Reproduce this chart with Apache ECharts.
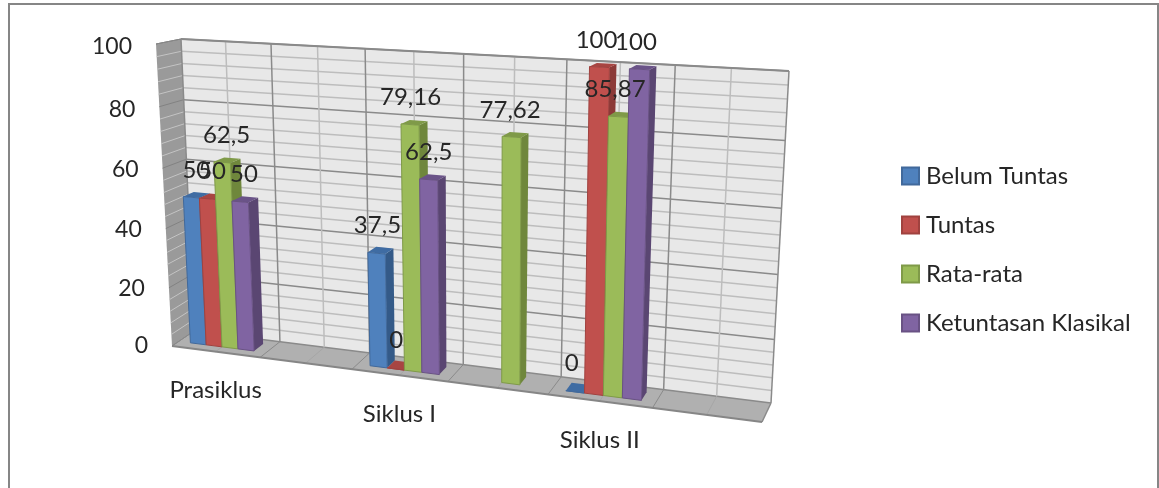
<!DOCTYPE html>
<html>
<head>
<meta charset="utf-8">
<title>Ketuntasan</title>
<style>
html, body { margin: 0; padding: 0; background: #fff; overflow: hidden; }
#main { width: 1159px; height: 488px; }
</style>
<script src="https://cdn.jsdelivr.net/npm/echarts@6/dist/echarts.min.js"></script>
</head>
<body>
<div id="main"></div>
<script>
// data (blank categories are really in the chart)
var categories = ['Prasiklus', '', 'Siklus I', '', 'Siklus II', ''];
var belumTuntas = [50, null, 37.5, null, 0, null];
var tuntas = [50, null, 0, null, 100, null];
var rataRata = [62.5, null, 79.16, 77.62, 85.87, null];
var klasikal = [50, null, 62.5, null, 100, null];
var yTicks = [0, 20, 40, 60, 80, 100];
var yMinorTicks = [4, 8, 12, 16, 24, 28, 32, 36, 44, 48, 52, 56, 64, 68, 72, 76, 84, 88, 92, 96];

var seriesNames = ['Belum Tuntas', 'Tuntas', 'Rata-rata', 'Ketuntasan Klasikal'];
var seriesValues = [belumTuntas, tuntas, rataRata, klasikal];
var faceColors = [
	{ front: '#4f81bd', edge: '#41699b', side: '#345a88', top: '#3f6ca3' },
	{ front: '#c0504d', edge: '#a0423f', side: '#8c3a38', top: '#a84542' },
	{ front: '#9bbb59', edge: '#7f9a48', side: '#6f873c', top: '#7f9a48' },
	{ front: '#8064a2', edge: '#695284', side: '#5a4672', top: '#6a5388' }
];

var FONT = 'Lato, "Open Sans", sans-serif';
var GRID = { left: 100, top: 40, width: 600, height: 300 };

// walls in the picture: the corners of the chart box, back plane and front plane
// order: bottom-left, bottom-right, top-right, top-left
var backPlane = [[194, 331], [771, 403], [789, 71], [181, 39]];
var frontPlane = [[172, 346], [762, 422], [776, 80], [156, 44]];

// bar placement inside a category cell and inside the depth of the box
var BAR_START = 0.135;
var BAR_WIDTH = 0.182;
var BAR_BACK = 0.24;
var BAR_FRONT = 0.69;

function makeHomography(q) {
	var x0 = q[0][0], y0 = q[0][1], x1 = q[1][0], y1 = q[1][1];
	var x2 = q[2][0], y2 = q[2][1], x3 = q[3][0], y3 = q[3][1];
	var dx1 = x1 - x2, dx2 = x3 - x2, sx = x0 - x1 + x2 - x3;
	var dy1 = y1 - y2, dy2 = y3 - y2, sy = y0 - y1 + y2 - y3;
	var den = dx1 * dy2 - dx2 * dy1;
	var g = (sx * dy2 - dx2 * sy) / den;
	var h = (dx1 * sy - sx * dy1) / den;
	var a = x1 - x0 + g * x1, b = x3 - x0 + h * x3;
	var d = y1 - y0 + g * y1, e = y3 - y0 + h * y3;
	return function (u, v) {
		var w = g * u + h * v + 1;
		return [(a * u + b * v + x0) / w, (d * u + e * v + y0) / w];
	};
}
var backMap = makeHomography(backPlane);
var frontMap = makeHomography(frontPlane);

// u along the categories, v up the value axis, w from back wall (0) to front (1)
function project(u, v, w) {
	var p = backMap(u, v), q = frontMap(u, v);
	return [p[0] + (q[0] - p[0]) * w, p[1] + (q[1] - p[1]) * w];
}

function flatU(px) { return (px - GRID.left) / GRID.width; }
function flatV(py) { return (GRID.top + GRID.height - py) / GRID.height; }

function polygon(points, fill, stroke, lineWidth, z2) {
	return {
		type: 'polygon',
		z2: z2 || 0,
		shape: { points: points },
		style: { fill: fill, stroke: stroke || null, lineWidth: lineWidth || 0 }
	};
}
function line(a, b, color, width) {
	return {
		type: 'line',
		shape: { x1: a[0], y1: a[1], x2: b[0], y2: b[1] },
		style: { stroke: color, lineWidth: width, fill: null }
	};
}
function label(x, y, text, size, align) {
	return {
		type: 'text',
		z2: 100,
		style: {
			x: x, y: y, text: text, fill: '#262626',
			font: size + 'px ' + FONT,
			align: align || 'center', verticalAlign: 'middle'
		}
	};
}

// box of the chart: walls, floor, grid lines, tick and category labels
function renderBox(params, api) {
	var kids = [];
	var band = api.size([1, 0])[0];
	var n = categories.length;

	kids.push(polygon([project(0, 0, 0), project(1, 0, 0), project(1, 1, 0), project(0, 1, 0)], '#e8e8e8'));
	kids.push(polygon([project(0, 0, 0), project(0, 1, 0), project(0, 1, 1), project(0, 0, 1)], '#9a9a9a'));
	kids.push(polygon([project(0, 0, 0), project(1, 0, 0), project(1, 0, 1), project(0, 0, 1)], '#b0b0b0'));

	yMinorTicks.forEach(function (t) {
		var v = flatV(api.coord([0, t])[1]);
		kids.push(line(project(0, v, 0), project(1, v, 0), '#bdbdbd', 1.5));
		kids.push(line(project(0, v, 0), project(0, v, 1), '#c4c4c4', 1));
	});
	yTicks.forEach(function (t) {
		var v = flatV(api.coord([0, t])[1]);
		kids.push(line(project(0, v, 0), project(1, v, 0), '#8a8a8a', 1.5));
		kids.push(line(project(0, v, 0), project(0, v, 1), '#828282', 1));
		var p = project(0, v, 1);
		kids.push(label(p[0] - 24, p[1] + 3 * v, String(t), 23, 'right'));
	});
	for (var i = 0; i < n; i++) {
		var center = api.coord([i, 0])[0];
		var um = flatU(center);
		var ub = flatU(center - band / 2);
		kids.push(line(project(um, 0, 0), project(um, 1, 0), '#bdbdbd', 1.5));
		kids.push(line(project(um, 0, 0), project(um, 0, 1), '#a6a6a6', 1));
		kids.push(line(project(ub, 0, 0), project(ub, 1, 0), '#8a8a8a', 1.5));
		kids.push(line(project(ub, 0, 0), project(ub, 0, 1), '#8a8a8a', 1));
		if (categories[i]) {
			var f = project(um, 0, 1);
			kids.push(label(f[0], f[1] + 39, categories[i], 24));
		}
	}
	kids.push(line(project(1, 0, 0), project(1, 1, 0), '#8a8a8a', 1.5));
	kids.push(line(project(1, 0, 0), project(1, 0, 1), '#8a8a8a', 1.5));
	kids.push(line(project(0, 0, 1), project(1, 0, 1), '#868686', 2));
	kids.push(line(project(0, 1, 0), project(1, 1, 0), '#8a8a8a', 2));
	kids.push(line(project(0, 1, 0), project(0, 1, 1), '#868686', 1));

	return { type: 'group', children: kids };
}

function makeBarRenderer(seriesIndex) {
	var colors = faceColors[seriesIndex];
	var order = seriesIndex + 1;
	return function (params, api) {
		var catIndex = api.value(0);
		var val = api.value(1);
		var band = api.size([1, 0])[0];
		var cellLeft = api.coord([catIndex, 0])[0] - band / 2;
		var u0 = flatU(cellLeft + band * (BAR_START + BAR_WIDTH * seriesIndex));
		var u1 = flatU(cellLeft + band * (BAR_START + BAR_WIDTH * (seriesIndex + 1)));
		var vb = flatV(api.coord([catIndex, 0])[1]);
		var vt = flatV(api.coord([catIndex, val])[1]);
		var w0 = BAR_BACK, w1 = BAR_FRONT;
		var kids = [];
		kids.push(polygon([project(u1, vb, w1), project(u1, vb, w0), project(u1, vt, w0), project(u1, vt, w1)], colors.side, null, 0, order));
		kids.push(polygon([project(u0, vt, w1), project(u1, vt, w1), project(u1, vt, w0), project(u0, vt, w0)], colors.top, null, 0, order));
		kids.push(polygon([project(u0, vb, w1), project(u1, vb, w1), project(u1, vt, w1), project(u0, vt, w1)], colors.front, colors.edge, 1, order));
		// the labels drift left of the bar tops towards the right of the chart
		var c = project((u0 + u1) / 2, vt, (w0 + w1) / 2);
		kids.push(label(c[0] - 9 * u0, c[1] - 25, String(val).replace('.', ','), 24));
		return { type: 'group', children: kids };
	};
}

var series = [{
	type: 'custom',
	silent: true,
	z: 2,
	renderItem: renderBox,
	data: [[0, 0]]
}];
seriesNames.forEach(function (name, s) {
	var rows = [];
	seriesValues[s].forEach(function (val, i) {
		if (val !== null) {
			rows.push([i, val]);
		}
	});
	series.push({
		name: name,
		type: 'custom',
		z: 2,
		renderItem: makeBarRenderer(s),
		encode: { x: 0, y: 1 },
		itemStyle: { color: faceColors[s].front, borderColor: faceColors[s].edge, borderWidth: 2 },
		data: rows
	});
});

var chart = echarts.init(document.getElementById('main'));
chart.setOption({
	animation: false,
	backgroundColor: '#fff',
	grid: GRID,
	xAxis: { type: 'category', data: categories, show: false },
	yAxis: { type: 'value', min: 0, max: 100, interval: 20, show: false },
	legend: {
		data: seriesNames,
		orient: 'vertical',
		left: 901,
		top: 164,
		padding: 0,
		icon: 'rect',
		itemWidth: 17,
		itemHeight: 17,
		itemGap: 25,
		selectedMode: false,
		textStyle: { fontFamily: FONT, fontSize: 24, color: '#262626', padding: [0, 0, 0, 2] }
	},
	graphic: [{
		type: 'rect',
		silent: true,
		shape: { x: 9, y: 4, width: 1149, height: 520 },
		style: { fill: null, stroke: '#868686', lineWidth: 2 }
	}],
	series: series
});
</script>
</body>
</html>
